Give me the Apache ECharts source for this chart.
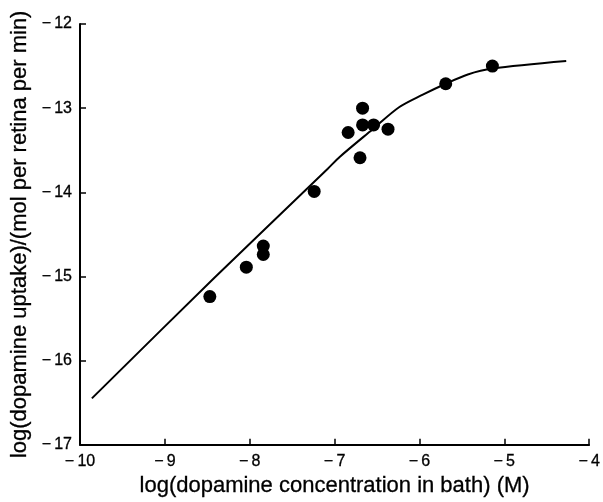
<!DOCTYPE html>
<html>
<head>
<meta charset="utf-8">
<script src="https://cdn.jsdelivr.net/npm/echarts@6/dist/echarts.min.js"></script>
<style>html,body{margin:0;padding:0;background:#fff}#c{width:603px;height:502px}</style>
</head>
<body>
<div id="c"></div>
<script>
// measured points
var pointX = [-8.47, -8.04, -7.84, -7.84, -7.24, -6.84, -6.70, -6.67, -6.67, -6.54, -6.37, -5.69, -5.14];
var pointY = [-15.24, -14.89, -14.64, -14.74, -13.99, -13.29, -13.59, -13.00, -13.20, -13.20, -13.25, -12.71, -12.50];
// fitted curve as drawn
var curveX = [-9.86, -8.41, -7.08, -6.94, -6.55, -6.24, -5.96, -5.69, -5.43, -5.14, -4.27];
var curveY = [-16.45, -15.01, -13.72, -13.58, -13.25, -12.99, -12.84, -12.71, -12.60, -12.53, -12.44];
var xTicks = [-10, -9, -8, -7, -6, -5, -4];
var yTicks = [-17, -16, -15, -14, -13, -12];

function pairs(xs, ys){ return xs.map(function(x,i){ return [x, ys[i]]; }); }
function fmt(v){ return v < 0 ? '\u2212\u2009' + Math.abs(v) : String(v); }

var font = '"Liberation Sans", Arial, Helvetica, sans-serif';
var chart = echarts.init(document.getElementById('c'), null, {renderer:'canvas'});
chart.setOption({
  animation: false,
  backgroundColor: '#fff',
  grid: {left: 80, right: 12, top: 24, bottom: 53, containLabel: false},
  xAxis: {
    type: 'value', min: -10, max: -4, interval: 1,
    name: 'log(dopamine concentration in bath) (M)',
    nameLocation: 'middle', nameGap: 30,
    nameTextStyle: {fontFamily: font, fontSize: 22, color: '#000', textBorderColor: '#000', textBorderWidth: 0.3},
    axisLine: {show: true, onZero: false, lineStyle: {color: '#000', width: 2}},
    axisTick: {show: true, inside: true, length: 6, lineStyle: {color: '#000', width: 1.5}},
    axisLabel: {fontFamily: font, fontSize: 16, color: '#000', margin: 9, formatter: fmt, textBorderColor: '#000', textBorderWidth: 0.3},
    splitLine: {show: false}
  },
  yAxis: {
    type: 'value', min: -17, max: -12, interval: 1,
    name: 'log(dopamine uptake)/(mol per retina per min)',
    nameLocation: 'middle', nameGap: 47,
    nameTextStyle: {fontFamily: font, fontSize: 22, color: '#000', textBorderColor: '#000', textBorderWidth: 0.3},
    axisLine: {show: true, onZero: false, lineStyle: {color: '#000', width: 2}},
    axisTick: {show: true, inside: true, length: 6, lineStyle: {color: '#000', width: 1.5}},
    axisLabel: {fontFamily: font, fontSize: 16, color: '#000', margin: 8, formatter: fmt, textBorderColor: '#000', textBorderWidth: 0.3},
    splitLine: {show: false}
  },
  series: [
    {
      type: 'line', data: pairs(curveX, curveY), showSymbol: false, symbol: 'none',
      smooth: 0.3,
      lineStyle: {color: '#000', width: 2}, z: 2
    },
    {
      type: 'scatter', data: pairs(pointX, pointY), symbol: 'circle', symbolSize: 13,
      itemStyle: {color: '#000', opacity: 1}, z: 3
    }
  ]
});
</script>
</body>
</html>
